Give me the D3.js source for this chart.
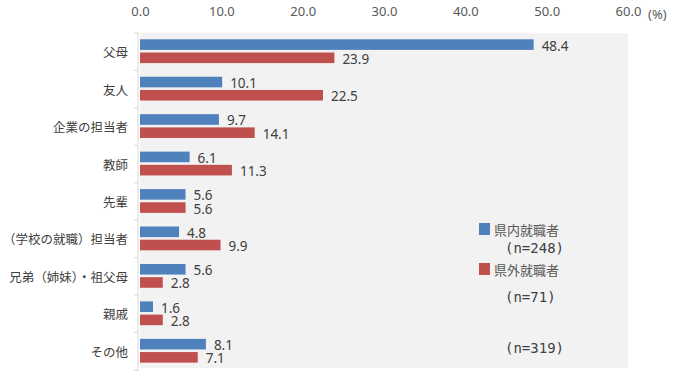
<!DOCTYPE html>
<html><head><meta charset="utf-8">
<script src="https://cdn.jsdelivr.net/npm/d3@7"></script>
<style>
html,body{margin:0;padding:0;background:#fff;}
text{font-family:"Noto Sans","Noto Sans CJK JP",sans-serif;}
</style></head>
<body><svg id="c" width="680" height="382"></svg>
<script>
const categories = ["父母","友人","企業の担当者","教師","先輩","（学校の就職）担当者","兄弟（姉妹）・祖父母","親戚","その他"];
const inPref = [48.4,10.1,9.7,6.1,5.6,4.8,5.6,1.6,8.1];
const outPref = [23.9,22.5,14.1,11.3,5.6,9.9,2.8,2.8,7.1];
const seriesNames = ["県内就職者","県外就職者"];
const sampleLabels = ["(n=248)","(n=71)","(n=319)"];
const tickValues = [0,10,20,30,40,50,60];
const colors = ["#4f81bd","#c0504d"];

const svg = d3.select("#c");
const x = d3.scaleLinear().domain([0,60]).range([140,628]);
const y = d3.scaleBand().domain(categories).range([33,370]).padding(0);

svg.append("rect").attr("x",x(0)).attr("y",33).attr("width",x(60)-x(0)).attr("height",335).attr("fill","#f2f2f2");

// top axis labels
const axis = d3.axisTop(x).tickValues(tickValues).tickFormat(d=>d3.format(".1f")(d)).tickSize(0);
const ga = svg.append("g").attr("transform","translate(0,19)").call(axis);
ga.select(".domain").remove();
ga.selectAll("text").attr("fill","#595959").style("font-size","13px").style("font-family","'Noto Sans',sans-serif").attr("dy","0");
svg.append("text").attr("x",648).attr("y",19).attr("fill","#595959").style("font-size","13px").style("font-family","'Noto Sans',sans-serif").text("(%)");

// left axis
svg.append("line").attr("x1",138).attr("x2",138).attr("y1",33).attr("y2",371).attr("stroke","#d9d9d9");
const bounds = categories.map(c=>y(c)).concat([y.range()[1]]);
svg.selectAll(".tk").data(bounds).enter().append("line")
  .attr("x1",134).attr("x2",138).attr("y1",d=>d).attr("y2",d=>d).attr("stroke","#d9d9d9");
svg.selectAll(".cat").data(categories).enter().append("text")
  .attr("x",128).attr("y",d=>y(d)+y.bandwidth()/2).attr("text-anchor","end").attr("dominant-baseline","central")
  .attr("fill","#404040").style("font-size","12.5px").style("font-family","'Noto Sans CJK JP',sans-serif").text(d=>d);

const barH = 10.6, off0 = 6.3, step = 13.2;
[inPref,outPref].forEach((vals,si)=>{
  const g = svg.append("g");
  g.selectAll("rect").data(vals).enter().append("rect")
    .attr("x",x(0)).attr("y",(d,i)=>y(categories[i])+off0+si*step)
    .attr("width",d=>x(d)-x(0)).attr("height",barH).attr("fill",colors[si]);
  g.selectAll("text").data(vals).enter().append("text")
    .attr("x",d=>x(d)+8).attr("y",(d,i)=>y(categories[i])+off0+si*step+barH/2+1)
    .attr("dominant-baseline","central").attr("fill","#404040").style("font-size","13.5px")
    .text(d=>d3.format(".1f")(d));
});

// legend
const lg = svg.append("g");
const legY = [223,263];
seriesNames.forEach((n,i)=>{
  lg.append("rect").attr("x",479).attr("y",legY[i]).attr("width",11).attr("height",12).attr("fill",colors[i]);
  lg.append("text").attr("x",494).attr("y",legY[i]+6).attr("dominant-baseline","central")
    .attr("fill","#595959").style("font-size","13px").style("font-family","'Noto Sans CJK JP',sans-serif").text(n);
});
const nY = [248,297,348];
sampleLabels.forEach((t,i)=>{
  lg.append("text").attr("x",505).attr("y",nY[i]).attr("dominant-baseline","central")
    .attr("fill","#404040").style("font-size","14px").style("font-family","'DejaVu Sans Mono','Liberation Mono',monospace").text(t);
});
</script></body></html>
